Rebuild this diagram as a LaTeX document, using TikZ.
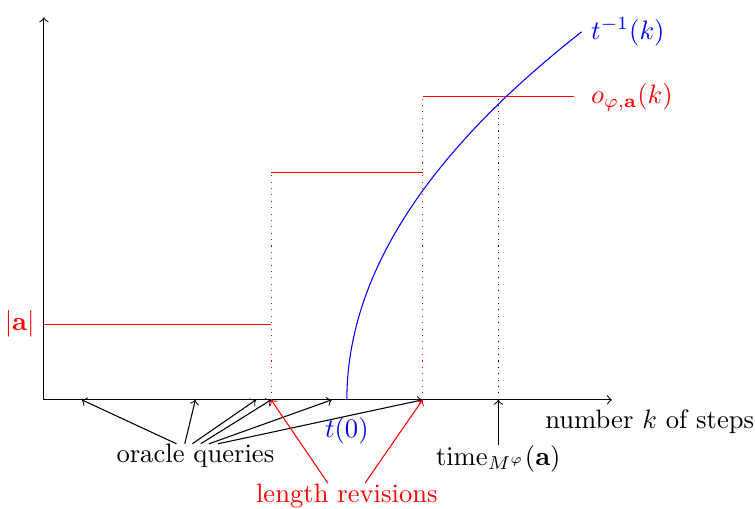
\documentclass[tikz,border=0pt]{standalone}
\usetikzlibrary{positioning}
\tikzset{lbl/.style={inner sep=0pt}}
\begin{document}
\begin{tikzpicture}
\useasboundingbox (-0.58,-1.44) rectangle (9.39,5.28);
\coordinate (O) at (0,0);
\coordinate (X) at (7.5,0);
\coordinate (Y) at (0,5.05);
\coordinate (Q1) at (0.5,0);
\coordinate (Q2) at (2,0);
\coordinate (Q3) at (2.8,0);
\coordinate (R1) at (3,0);
\coordinate (Q5) at (3.8,0);
\coordinate (T0) at (4,0);
\coordinate (R2) at (5,0);
\coordinate (T) at (6,0);
\draw[->] (O) -- (X);
\draw[->] (O) -- (Y);
\node[below] (steps) at (8,0) {number $k$ of steps};
% length of the output
\node[left, red] (len) at (0,1) {$|\mathbf{a}|$};
\draw[red] (len.east) -- (3,1);
\draw[red, dotted] (R1) -- (3,3);
\draw[red] (3,3) -- (5,3);
\draw[red, dotted] (R2) -- (5,4);
\draw[red] (5,4) -- (7,4);
\node[right, red] (o) at (7.1,4) {$o_{\varphi,\mathbf{a}}(k)$};
\draw[dotted] (T) -- (6,4);
% inverse of t
\draw[blue] plot[domain=0:4.86, samples=50] ({4+(\x/2.76)^2}, \x);
\node[right, blue] (tinv) at (7.1,4.86) {$t^{-1}(k)$};
\node[lbl, blue, below=0.22cm of T0] (t0) {$t(0)$};
% labels below the axis
\node[lbl, below=0.58cm of Q2] (oq) {oracle queries};
\foreach \s/\q in {-0.25/Q1, -0.14/Q2, -0.04/Q3, 0.07/R1, 0.18/Q5, 0.30/R2}
  \draw[->] ([xshift=\s cm]oq.north) -- (\q);
\node[lbl, red, below=1.1cm of T0] (lr) {length revisions};
\draw[red, ->] ([xshift=-0.25cm]lr.north) -- (R1);
\draw[red, ->] ([xshift=0.24cm]lr.north) -- (R2);
\node[lbl, below=0.59cm of T] (time) {$\mathrm{time}_{M^\varphi}(\mathbf{a})$};
\draw[->] (time) -- (T);
\end{tikzpicture}
\end{document}
